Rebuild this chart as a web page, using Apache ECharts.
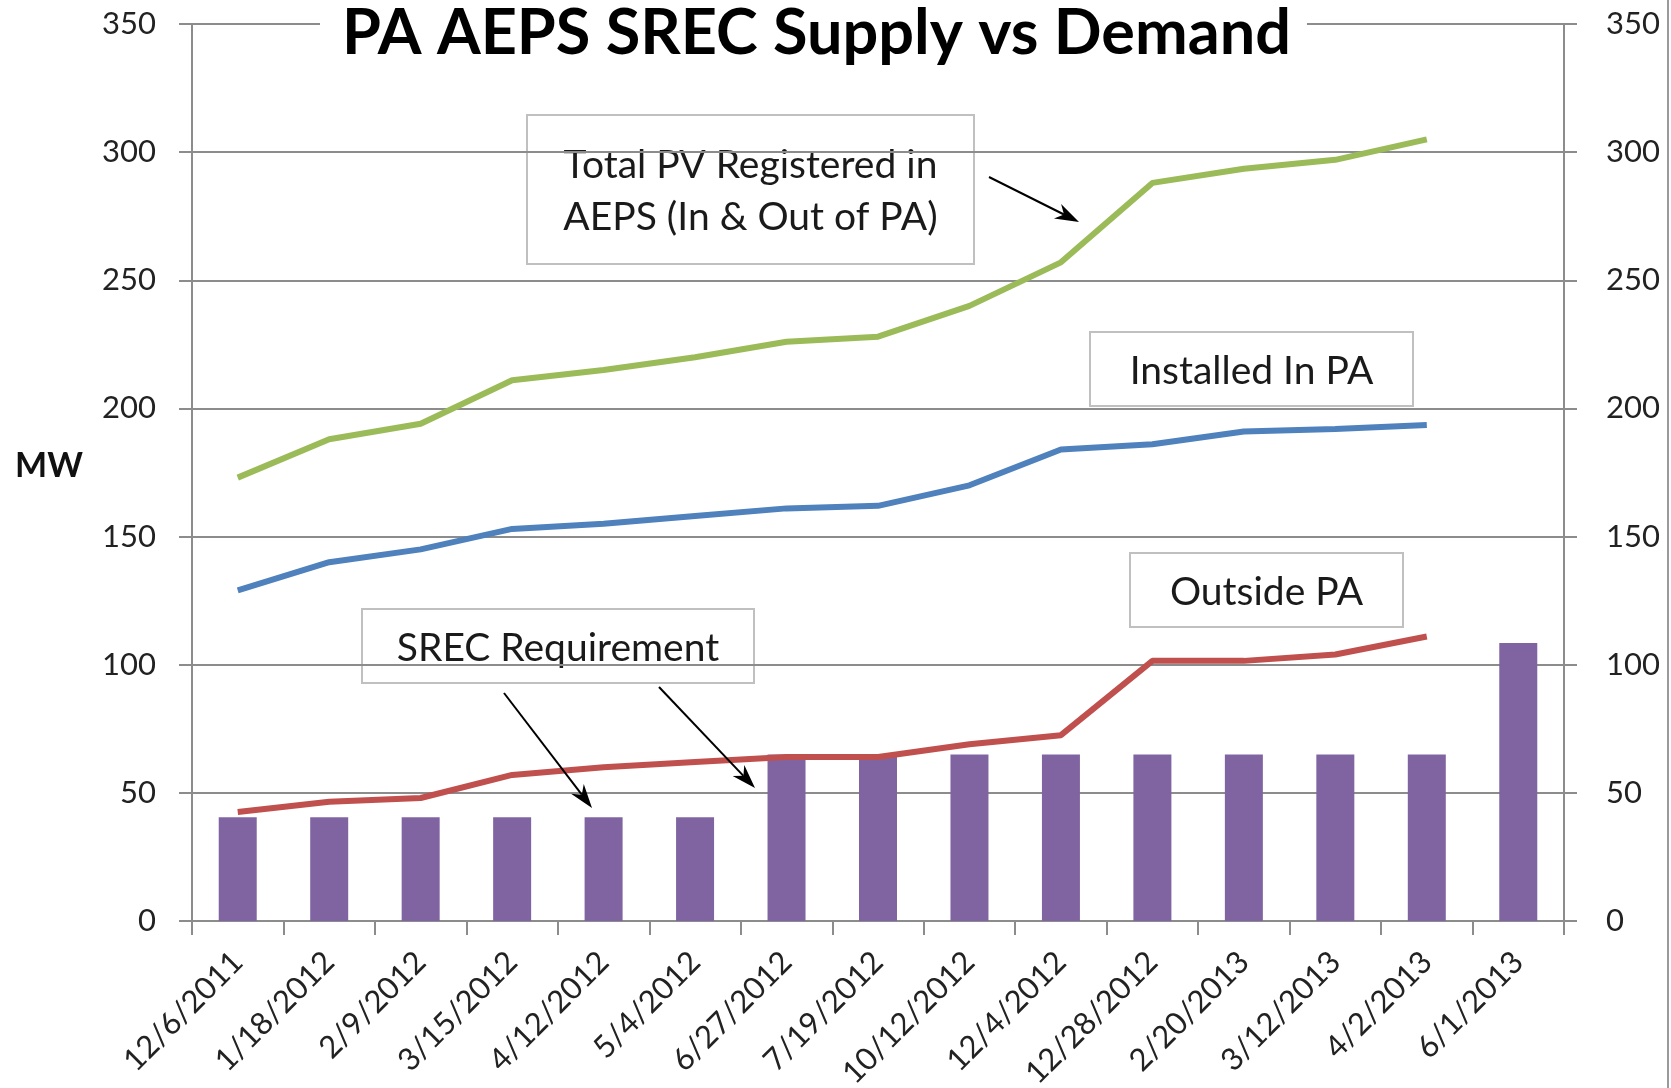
<!DOCTYPE html>
<html>
<head>
<meta charset="utf-8">
<script src="https://cdn.jsdelivr.net/npm/echarts@6/dist/echarts.min.js"></script>
<style>
  html, body { margin: 0; padding: 0; background: #fff; }
  #chart { width: 1671px; height: 1088px; }
</style>
</head>
<body>
<div id="chart"></div>
<script>
// 数据
const categories = ['12/6/2011', '1/18/2012', '2/9/2012', '3/15/2012', '4/12/2012', '5/4/2012', '6/27/2012',
  '7/19/2012', '10/12/2012', '12/4/2012', '12/28/2012', '2/20/2013', '3/12/2013', '4/2/2013', '6/1/2013'];
const srecRequirement = [40.5, 40.5, 40.5, 40.5, 40.5, 40.5, 65, 65, 65, 65, 65, 65, 65, 65, 108.5];
const totalRegistered = [173, 188, 194, 211, 215, 220, 226, 228, 240, 257, 288, 293.5, 297, 305, null];
const installedInPA = [129, 140, 145, 153, 155, 158, 161, 162, 170, 184, 186, 191, 192, 193.5, null];
const outsidePA = [42.5, 46.5, 48, 57, 60, 62, 64, 64, 69, 72.5, 101.5, 101.5, 104, 111, null];
const yTicks = { min: 0, max: 350, interval: 50 };

document.addEventListener('DOMContentLoaded', function () {
  const chart = echarts.init(document.getElementById('chart'));
  const gray = '#8c8c8c';
  const font = 'Lato, "Open Sans", sans-serif';

  // 箭头: 线 + 三角形头
  function arrow(x1, y1, x2, y2) {
    const a = Math.atan2(y2 - y1, x2 - x1);
    const L = 24, W = 8;
    const c = Math.cos(a), s = Math.sin(a);
    const bx = x2 - L * c, by = y2 - L * s;
    const nx = x2 - 0.7 * L * c, ny = y2 - 0.7 * L * s;
    return [
      { type: 'line', shape: { x1: x1, y1: y1, x2: nx, y2: ny }, style: { stroke: '#000', lineWidth: 2 }, z: 100 },
      { type: 'polygon', shape: { points: [[x2, y2], [bx + W * s, by - W * c], [nx, ny], [bx - W * s, by + W * c]] },
        style: { fill: '#000' }, z: 100 }
    ];
  }

  function box(x, y, w, h, text, lh) {
    return {
      type: 'group', z: 90,
      children: [
        { type: 'rect', shape: { x: x, y: y, width: w, height: h }, style: { fill: '#fff', stroke: '#c0c0c0', lineWidth: 2 } },
        { type: 'text', x: x + w / 2, y: y + h / 2 + 2,
          style: { text: text, fill: '#1a1a1a', font: '39px ' + font, align: 'center', verticalAlign: 'middle', lineHeight: lh || 50 } }
      ]
    };
  }

  const graphics = [
    box(527, 115, 447, 149, 'Total PV Registered in\nAEPS (In & Out of PA)', 52),
    box(1090, 332, 323, 74, 'Installed In PA'),
    box(1130, 553, 273, 74, 'Outside PA'),
    box(362, 609, 392, 74, 'SREC Requirement'),
    { type: 'text', x: 15, y: 466, style: { text: 'MW', font: 'bold 34px ' + font, fill: '#111', verticalAlign: 'middle' } },
    { type: 'line', shape: { x1: 1668, y1: 0, x2: 1668, y2: 1088 }, style: { stroke: '#9a9a9a', lineWidth: 2 } }
  ].concat(arrow(989, 177, 1079, 222), arrow(504, 693, 592, 808), arrow(659, 687, 755, 788));

  const yAxisBase = {
    type: 'value',
    min: yTicks.min,
    max: yTicks.max,
    interval: yTicks.interval,
    axisLine: { show: true, lineStyle: { color: gray, width: 2 } },
    axisTick: { show: true, length: 13, lineStyle: { color: gray, width: 2 } },
    axisLabel: { fontSize: 31, fontFamily: font, color: '#222', margin: 36 }
  };

  const option = {
    animation: false,
    backgroundColor: '#fff',
    title: {
      text: 'PA AEPS SREC Supply vs Demand',
      left: 320,
      top: 0,
      padding: [2, 16, 6, 22],
      backgroundColor: '#fff',
      textStyle: { fontSize: 63, fontWeight: 'bold', fontFamily: font, color: '#000' }
    },
    grid: { left: 192, right: 107, top: 24, bottom: 167, containLabel: false, outerBoundsMode: 'none' },
    xAxis: {
      type: 'category',
      data: categories,
      axisLine: { lineStyle: { color: gray, width: 2 } },
      axisTick: { show: true, length: 14, interval: 0, lineStyle: { color: gray, width: 2 } },
      axisLabel: { rotate: 45, interval: 0, fontSize: 31, fontFamily: font, color: '#222', margin: 36 }
    },
    yAxis: [
      Object.assign({}, yAxisBase, { position: 'left', splitLine: { show: true, lineStyle: { color: gray, width: 2 } } }),
      Object.assign({}, yAxisBase, { position: 'right', splitLine: { show: false },
        axisLabel: { fontSize: 31, fontFamily: font, color: '#222', margin: 42, align: 'left' } })
    ],
    series: [
      { name: 'SREC Requirement', type: 'bar', data: srecRequirement, barWidth: 38,
        itemStyle: { color: '#8064A2' }, z: 2 },
      { name: 'Total PV Registered', type: 'line', data: totalRegistered, showSymbol: false,
        lineStyle: { width: 6, color: '#9BBB59' }, itemStyle: { color: '#9BBB59' }, z: 3 },
      { name: 'Installed In PA', type: 'line', data: installedInPA, showSymbol: false,
        lineStyle: { width: 6, color: '#4F81BD' }, itemStyle: { color: '#4F81BD' }, z: 3 },
      { name: 'Outside PA', type: 'line', data: outsidePA, showSymbol: false,
        lineStyle: { width: 6, color: '#C0504D' }, itemStyle: { color: '#C0504D' }, z: 3 }
    ],
    graphic: graphics
  };

  chart.setOption(option);

  window.addEventListener('resize', function () {
    chart.resize();
  });
});
</script>
</body>
</html>
